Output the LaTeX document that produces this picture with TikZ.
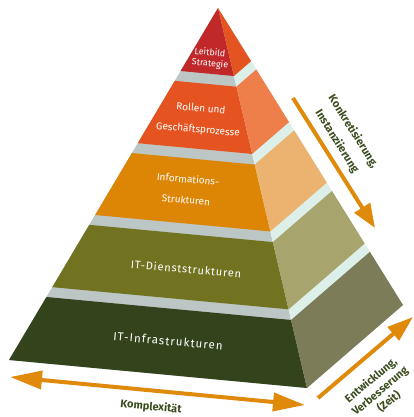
\documentclass[tikz,border=0pt]{standalone}
\usepackage{fontspec}
\setmainfont{Fira Sans}
\usetikzlibrary{arrows.meta,calc}

\definecolor{topfront}{HTML}{C0282A}
\definecolor{topside}{HTML}{E35420}
\definecolor{rolfront}{HTML}{E55420}
\definecolor{rolside}{HTML}{EF7F4A}
\definecolor{inffront}{HTML}{DD8504}
\definecolor{infside}{HTML}{EBB36F}
\definecolor{dienfront}{HTML}{717321}
\definecolor{dienside}{HTML}{A7A56D}
\definecolor{infrafront}{HTML}{33441C}
\definecolor{infraside}{HTML}{7C7C59}
\definecolor{bandfront}{HTML}{BCC6C4}
\definecolor{bandside}{HTML}{DCEFE9}
\definecolor{arroworange}{HTML}{E08A0B}
\definecolor{labelgreen}{HTML}{3B4D1E}

\begin{document}
\begin{tikzpicture}[x=1pt,y=-1pt,
    layertext/.style={text=white,rotate=-5,inner sep=0pt},
    axislabel/.style={text=labelgreen,inner sep=0pt,align=center,font=\bfseries\fontsize{11}{14}\selectfont},
    axisarrow/.style={draw=arroworange,line width=4pt}]
    \useasboundingbox (0,0) rectangle (414,417);
    \coordinate (A) at (218,8);
    \coordinate (L) at (9,360);
    \coordinate (F) at (307,388);
    \coordinate (B) at (403,305);
    \fill[bandfront] (A) -- (L) -- (F) -- cycle;
    \fill[bandside] (A) -- (F) -- (B) -- cycle;
    \foreach \ta/\tb/\cf/\cs in {0/0.179/topfront/topside,0.207/0.384/rolfront/rolside,
        0.412/0.588/inffront/infside,0.616/0.793/dienfront/dienside,0.821/1/infrafront/infraside}{
        \fill[\cf] ($(A)!\ta!(L)$) -- ($(A)!\tb!(L)$) -- ($(A)!\tb!(F)$) -- ($(A)!\ta!(F)$) -- cycle;
        \fill[\cs] ($(A)!\ta!(F)$) -- ($(A)!\tb!(F)$) -- ($(A)!\tb!(B)$) -- ($(A)!\ta!(B)$) -- cycle;
    }

    \node[layertext,font=\fontsize{9}{10}\selectfont] (leitbild) at (210,52) {Leitbild};
    \node[layertext,font=\fontsize{9}{10}\selectfont] (strategie) at (210,64) {Strategie};
    \node[layertext,font=\fontsize{10}{11}\selectfont] (rollen) at (201,108) {Rollen und};
    \node[layertext,font=\fontsize{10}{11}\selectfont] (prozesse) at (198,130) {Geschäftsprozesse};
    \node[layertext,font=\fontsize{10}{11}\selectfont] (informat) at (188,179) {Informations-};
    \node[layertext,font=\fontsize{10}{11}\selectfont] (strukt) at (186,200) {Strukturen};
    \node[layertext,font=\fontsize{11}{12}\selectfont\addfontfeature{LetterSpace=7}] (dienst) at (186,269) {IT-Dienststrukturen};
    \node[layertext,font=\fontsize{11.5}{12}\selectfont\addfontfeature{LetterSpace=9}] (infra) at (168,341) {IT-Infrastrukturen};

    \coordinate (konkS) at (293,98);
    \coordinate (konkE) at (375,228);
    \coordinate (kompL) at (10,377);
    \coordinate (kompR) at (305,405);
    \coordinate (entwS) at (318,398);
    \coordinate (entwE) at (413,317);
    \draw[axisarrow,-{Triangle[length=24pt,width=18pt]}] (konkS) -- (konkE);
    \draw[axisarrow,{Triangle[length=32pt,width=18pt]}-{Triangle[length=32pt,width=18pt]}] (kompL) -- (kompR);
    \draw[axisarrow,-{Triangle[length=26pt,width=17pt]}] (entwS) -- (entwE);

    \node[axislabel,rotate=-5.4] (komplex) at (151,407) {Komplexität};
    \node[axislabel,rotate=-58,font=\bfseries\fontsize{11}{19}\selectfont] (konkret) at (345,136.5) {Konkretisierung,\\Instanziierung};
    \node[axislabel,rotate=40] (entw) at (380,391) {Entwicklung,\\Verbesserung\\(Zeit)};
\end{tikzpicture}
\end{document}
